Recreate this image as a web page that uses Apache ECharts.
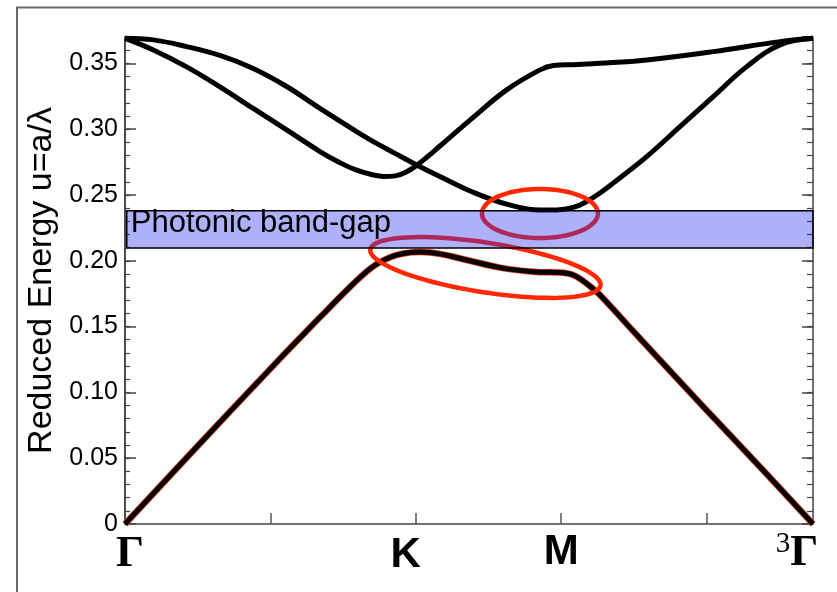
<!DOCTYPE html>
<html>
<head>
<meta charset="utf-8">
<style>
  html, body { margin: 0; padding: 0; background: #fff; }
  #chart { width: 837px; height: 592px; }
</style>
<script src="https://cdn.jsdelivr.net/npm/echarts@6/dist/echarts.min.js"></script>
</head>
<body>
<div id="chart"></div>
<script>
// Band structure along Γ–K–M–Γ (path length in units of |KM|)
const X_K = 2;
const X_M = 3;
const X_END = 4.732;
const Y_MAX = 0.37;

const xTickValues = [1, 2, 3, 4];
const kPointValues = [0, X_K, X_M, X_END];
const kPointNames = ['Γ', 'K', 'M', 'Γ'];

// first band
const band1 = [
  [0, 0], [0.493, 0.0585], [1.009, 0.1190], [1.341, 0.1570], [1.570, 0.1825],
  [1.708, 0.1958], [1.820, 0.2025], [1.914, 0.2055], [2.030, 0.2066], [2.100, 0.2063],
  [2.350, 0.2006], [2.579, 0.1948], [2.808, 0.1917], [3.038, 0.1905], [3.106, 0.1879],
  [3.200, 0.1805], [3.267, 0.1740], [3.496, 0.1465], [3.955, 0.0918], [4.413, 0.0380],
  [4.732, 0]
];

// second band
const band2 = [
  [0, 0.3690], [0.195, 0.3602], [0.424, 0.3473], [0.653, 0.3321], [0.882, 0.3157],
  [1.112, 0.2994], [1.341, 0.2830], [1.479, 0.2745], [1.593, 0.2688], [1.708, 0.2652],
  [1.780, 0.2641], [1.860, 0.2645], [1.940, 0.2678], [2.006, 0.2725], [2.080, 0.2790],
  [2.166, 0.2872], [2.395, 0.3090], [2.625, 0.3298], [2.854, 0.3450], [2.946, 0.3483],
  [3.083, 0.3490], [3.267, 0.3500], [3.588, 0.3526], [4.046, 0.3589], [4.505, 0.3665],
  [4.732, 0.3690]
];

// third band
const band3 = [
  [0, 0.3690], [0.195, 0.3678], [0.424, 0.3627], [0.653, 0.3560], [0.882, 0.3461],
  [1.112, 0.3324], [1.341, 0.3157], [1.593, 0.2981], [1.708, 0.2905], [1.850, 0.2820],
  [2.006, 0.2728], [2.166, 0.2640], [2.395, 0.2520], [2.625, 0.2430], [2.854, 0.2386],
  [2.969, 0.2386], [3.083, 0.2405], [3.175, 0.2450], [3.267, 0.2515], [3.358, 0.2590],
  [3.588, 0.2791], [3.817, 0.3019], [4.046, 0.3247], [4.276, 0.3475], [4.505, 0.3640],
  [4.732, 0.3690]
];

// photonic band gap: [xStart, yLow, xEnd, yHigh]
const bandGap = [[0.012, 0.2097, X_END, 0.2380]];

// highlighted regions (centres in data units)
const highlightCentres = [[2.854, 0.2359], [2.479, 0.1949]];

const SANS = '"Liberation Sans", Arial, Helvetica, sans-serif';
const SERIF = '"Liberation Serif", "Times New Roman", serif';
const ringShapes = [
  { rx: 58, ry: 24.5, rot: 0 },
  { rx: 116.5, ry: 24.8, rot: 8.9 }
];

const chart = echarts.init(document.getElementById('chart'), null, { renderer: 'canvas' });

function fmtY(v) {
  const r = Math.round(v * 100);
  if (r % 5 !== 0 || Math.abs(v * 100 - r) > 1e-6) return '';
  return r === 0 ? '0' : v.toFixed(2);
}

function fmtX(v) {
  const i = kPointValues.findIndex(k => Math.abs(k - v) < 1e-6);
  if (i === 0) return '{g0|' + kPointNames[0] + '}';
  if (i === 1) return '{k|' + kPointNames[1] + '}';
  if (i === 2) return '{m|' + kPointNames[2] + '}';
  if (i === 3) return '{s|3}{g3|' + kPointNames[3] + '}';
  return '';
}

const axisColor = '#333';
const bandLine = { color: '#000', width: 5 };
const SMOOTH = 0.4;

function bandSeries(name, data) {
  return {
    name, type: 'line', data, showSymbol: false, smooth: SMOOTH,
    lineStyle: bandLine, z: 2, silent: true
  };
}

const option = {
  animation: false,
  backgroundColor: '#fff',
  grid: { left: 125, right: 24, top: 37, bottom: 68, containLabel: false, outerBoundsMode: 'none' },
  graphic: [{
    type: 'polyline',
    shape: { points: [[17, 592], [17, 7.5], [837, 7.5]] },
    style: { stroke: '#6a6a6a', lineWidth: 2, fill: null },
    silent: true
  }],
  xAxis: [{
    type: 'value', min: 0, max: X_END, position: 'bottom',
    axisLine: { show: true, lineStyle: { color: axisColor, width: 1.5 } },
    axisTick: { show: true, inside: true, length: 11, customValues: xTickValues,
                lineStyle: { color: '#555', width: 1.5 } },
    axisLabel: {
      customValues: kPointValues, formatter: fmtX, margin: 6, color: '#000',
      rich: {
        g0: { fontFamily: SERIF, fontWeight: 'bold', fontSize: 44, lineHeight: 44, padding: [6, 0, 0, 10] },
        k: { fontFamily: SANS, fontWeight: 'bold', fontSize: 42, lineHeight: 44, padding: [6, 20, 0, 0] },
        m: { fontFamily: SANS, fontWeight: 'bold', fontSize: 42, lineHeight: 44, padding: [0, 0, 0, 0] },
        s: { fontFamily: SERIF, fontSize: 29, lineHeight: 30, verticalAlign: 'top' },
        g3: { fontFamily: SERIF, fontWeight: 'bold', fontSize: 44, lineHeight: 44, padding: [4, 32, 0, 0] }
      }
    },
    splitLine: { show: false }
  }, {
    type: 'value', min: 0, max: X_END, position: 'top',
    axisLine: { show: true, lineStyle: { color: '#777', width: 1.5 } },
    axisTick: { show: false }, axisLabel: { show: false }, splitLine: { show: false }
  }],
  yAxis: [{
    type: 'value', min: 0, max: Y_MAX, interval: 0.05, position: 'left',
    name: 'Reduced Energy u=a/λ', nameLocation: 'middle', nameGap: 63,
    nameTextStyle: { fontFamily: SANS, fontSize: 34, color: '#000' },
    axisLine: { show: true, lineStyle: { color: '#111', width: 1.5 } },
    axisTick: { show: true, inside: true, length: 11, lineStyle: { color: '#444', width: 1.5 } },
    axisLabel: { formatter: fmtY, fontFamily: SANS, fontSize: 25, color: '#000', margin: 7 },
    splitLine: { show: false }
  }, {
    type: 'value', min: 0, max: Y_MAX, interval: 0.01, position: 'left',
    axisLine: { show: false },
    axisTick: { show: true, inside: true, length: 5, lineStyle: { color: '#444', width: 1.2 } },
    axisLabel: { show: false }, splitLine: { show: false }
  }, {
    type: 'value', min: 0, max: Y_MAX, interval: 0.05, position: 'right',
    axisLine: { show: true, lineStyle: { color: '#444', width: 1.5 } },
    axisTick: { show: true, inside: true, length: 11, lineStyle: { color: '#444', width: 1.5 } },
    axisLabel: { show: false }, splitLine: { show: false }
  }, {
    type: 'value', min: 0, max: Y_MAX, interval: 0.01, position: 'right',
    axisLine: { show: false },
    axisTick: { show: true, inside: true, length: 6, lineStyle: { color: '#444', width: 1.2 } },
    axisLabel: { show: false }, splitLine: { show: false }
  }],
  series: [
    {
      name: 'band1-edge', type: 'line', data: band1, showSymbol: false, smooth: SMOOTH,
      lineStyle: { color: '#e8341c', width: 6.5 }, z: 1, silent: true
    },
    bandSeries('band1', band1),
    bandSeries('band2', band2),
    bandSeries('band3', band3),
    {
      name: 'highlights', type: 'custom', data: highlightCentres, z: 3, silent: true,
      renderItem(params, api) {
        const c = api.coord([api.value(0), api.value(1)]);
        const s = ringShapes[params.dataIndex];
        const th = s.rot * Math.PI / 180;
        const pts = [];
        for (let i = 0; i < 96; i++) {
          const t = i / 96 * Math.PI * 2;
          const ex = s.rx * Math.cos(t), ey = s.ry * Math.sin(t);
          pts.push([c[0] + ex * Math.cos(th) - ey * Math.sin(th),
                    c[1] + ex * Math.sin(th) + ey * Math.cos(th)]);
        }
        return {
          type: 'polygon', shape: { points: pts },
          style: { fill: null, stroke: '#ff2800', lineWidth: 4.5 }
        };
      }
    },
    {
      name: 'gap', type: 'custom', data: bandGap, z: 4, silent: true,
      renderItem(params, api) {
        const p0 = api.coord([api.value(0), api.value(3)]);
        const p1 = api.coord([api.value(2), api.value(1)]);
        return {
          type: 'group',
          children: [{
            type: 'rect',
            shape: { x: p0[0], y: p0[1], width: p1[0] - p0[0], height: p1[1] - p0[1] },
            style: { fill: 'rgba(35,40,241,0.37)', stroke: '#000', lineWidth: 1.5 }
          }, {
            type: 'text',
            style: {
              text: 'Photonic band-gap', x: p0[0] + 4, y: p0[1] + 13,
              align: 'left', verticalAlign: 'middle',
              font: '31px ' + SANS, fill: '#000'
            }
          }]
        };
      }
    }
  ]
};

chart.setOption(option);
</script>
</body>
</html>
